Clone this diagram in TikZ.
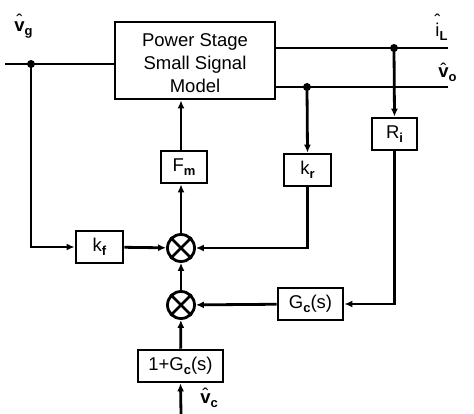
\documentclass[tikz,border=0pt]{standalone}
\usepackage{fontspec}
\setmainfont{Liberation Sans}
\usetikzlibrary{arrows.meta}
\newcommand\fsz{\fontsize{18.5}{23}\selectfont}
\newcommand\sbs[1]{\raisebox{-4pt}{\fontsize{13}{13}\selectfont\bfseries #1}}
\newcommand\hatover[2]{\ooalign{#2\cr\hidewidth\raisebox{#1}{\symbol{"02C6}}\hidewidth\cr}}
\begin{document}
\begin{tikzpicture}[x=1pt,y=-1pt,
  line width=2.8pt,
  blk/.style={draw, line width=2.8pt, inner sep=0pt, font=\fsz, minimum height=32pt},
  mult/.style={draw, circle, line width=2.8pt, minimum size=27pt, inner sep=0pt},
  dot/.style={circle, fill, inner sep=0pt, minimum size=8pt},
  lbl/.style={inner sep=0pt, font=\fsz, anchor=base west},
  arr/.style={-{Latex[length=8pt,width=7pt]}}]
\useasboundingbox (0,0) rectangle (474,414);
% blocks
\node[blk, minimum width=160pt, minimum height=77pt] (ps) at (195,60.5) {};
\node[inner sep=0pt, font=\fsz, align=center, anchor=base] (pst) at (195,93)
  {Power Stage\\Small Signal\\Model};
\node[blk, minimum width=46pt] (Fm) at (184,167) {F\sbs{m}};
\node[blk, minimum width=47pt] (kr) at (307.5,170) {k\sbs{r}};
\node[blk, minimum width=45pt] (Ri) at (394.5,134) {R\sbs{i}};
\node[blk, minimum width=47pt] (kf) at (99.5,247) {k\sbs{f}};
\node[blk, minimum width=65pt] (Gc) at (310.5,304) {G\sbs{c}(s)};
\node[blk, minimum width=85pt] (Gc1) at (180.5,366) {1+G\sbs{c}(s)};
\node[mult] (m1) at (181,248) {};
\node[mult] (m2) at (181,305) {};
\foreach \m in {m1,m2} {
  \draw (\m.north west) -- (\m.south east) (\m.north east) -- (\m.south west);
}
% points
\coordinate (vgin) at (5,64);
\node[dot] (dvg) at (31,64) {};
\coordinate (psvg) at (115,64);
\coordinate (psiL) at (275,48);
\coordinate (iLout) at (448,48);
\node[dot] (diL) at (394,48) {};
\coordinate (psvo) at (275,87);
\coordinate (voout) at (448,87);
\node[dot] (dvo) at (307,87) {};
\coordinate (vcin) at (181,414);
% labels
\node[lbl] (lvg) at (13,32) {\hatover{4pt}{\bfseries v}\sbs{g}};
\node[lbl] (liL) at (434,37) {\hatover{9pt}{i}\sbs{L}};
\node[lbl] (lvo) at (437,78) {\hatover{1pt}{\bfseries v}\sbs{o}};
\node[lbl] (lvc) at (199,403) {\hatover{2pt}{\bfseries v}\sbs{c}};
% connectors
\draw (vgin) -- (psvg);
\draw (psiL) -- (iLout);
\draw (psvo) -- (voout);
\draw[arr] (dvg.center) |- (kf.west);
\draw[arr] (kf) -- (m1);
\draw[arr] (m1) -- (m1 |- Fm.south);
\draw[arr] (m1 |- Fm.north) -- (m1 |- ps.south);
\draw[arr] (dvo.center) -- (kr.north);
\draw[arr] (kr.south) |- (m1.east);
\draw[arr] (diL.center) -- (Ri.north);
\draw[arr] (Ri.south) |- (Gc.east);
\draw[arr] (Gc) -- (m2);
\draw[arr] (m2) -- (m1);
\draw[arr] (Gc1) -- (m2);
\draw[arr] (vcin) -- (Gc1.south);
\end{tikzpicture}
\end{document}
